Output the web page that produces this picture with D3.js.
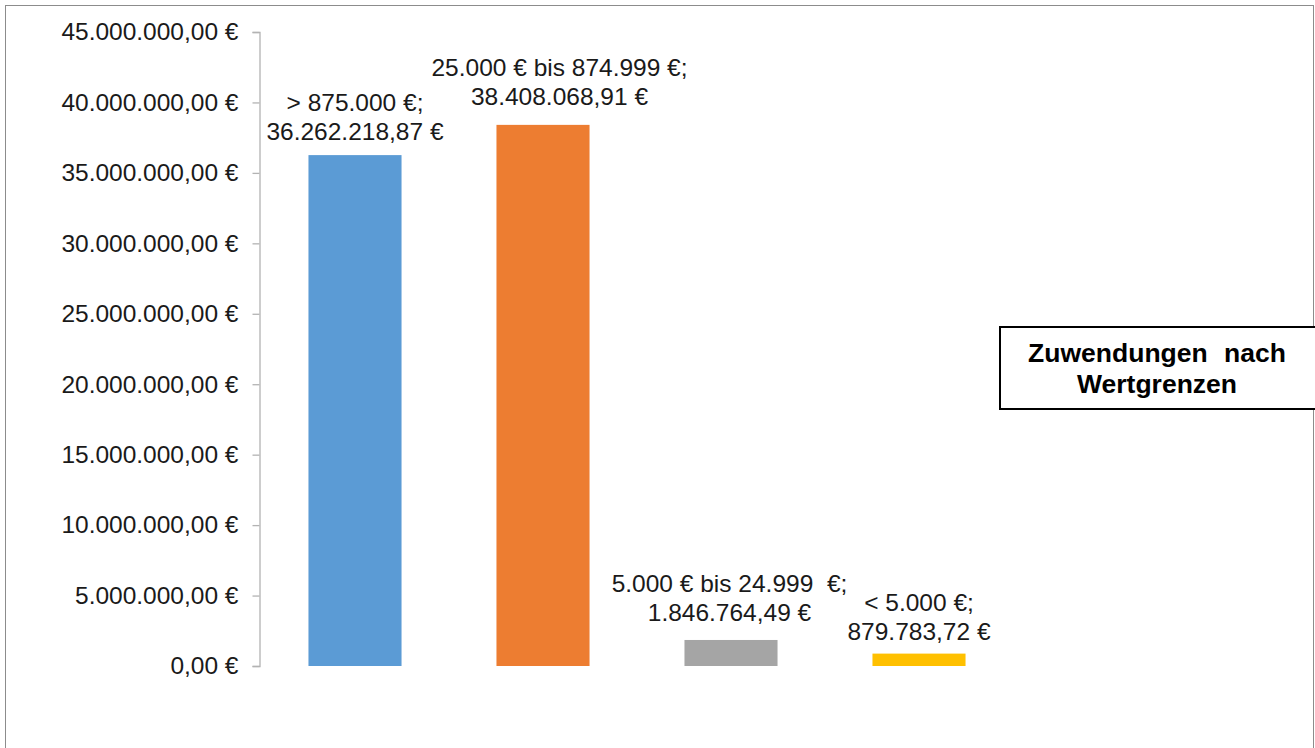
<!DOCTYPE html>
<html>
<head>
<meta charset="utf-8">
<script src="https://cdn.jsdelivr.net/npm/d3@7"></script>
<style>
  body { margin: 0; background: #fff; }
  svg { display: block; font-family: "Liberation Sans", Arial, sans-serif; }
</style>
</head>
<body>
<div id="chart"></div>
<script>
// Daten
var categories = ["> 875.000 €;", "25.000 € bis 874.999 €;", "5.000 € bis 24.999  €;", "< 5.000 €;"];
var values = [36262218.87, 38408068.91, 1846764.49, 879783.72];
var valueLabels = ["36.262.218,87 €", "38.408.068,91 €", "1.846.764,49 €", "879.783,72 €"];
var yTicks = [0, 5000000, 10000000, 15000000, 20000000, 25000000, 30000000, 35000000, 40000000, 45000000];
var colors = ["#5B9BD5", "#ED7D31", "#A5A5A5", "#FFC000"];
var titleLines = ["Zuwendungen nach", "Wertgrenzen"];

// Beschriftungsversatz (wie im Original leicht verschoben)
var labelShift = [{dx: 0, dy: 0}, {dx: 16.5, dy: -4.5}, {dx: -1.5, dy: -3.5}, {dx: 0, dy: 2}];

var width = 1315, height = 748;

var svg = d3.select("#chart").append("svg")
  .attr("width", width)
  .attr("height", height);

// Rahmen
svg.append("rect")
  .attr("x", 5.5).attr("y", 5.5)
  .attr("width", 1308).attr("height", 800)
  .attr("fill", "none")
  .attr("stroke", "#8c8c8c")
  .attr("stroke-width", 1);

var y = d3.scaleLinear()
  .domain([0, 45000000])
  .range([666, 32]);

var x = d3.scaleBand()
  .domain(categories)
  .range([261, 1013])
  .paddingInner(0.505)
  .paddingOuter(0.2525);

var fmt = function(d) {
  return d3.format(",.2f")(d).replace(/,/g, "#").replace(".", ",").replace(/#/g, ".") + " €";
};

// Y-Achse
var yAxis = d3.axisLeft(y)
  .tickValues(yTicks)
  .tickFormat(fmt)
  .tickSize(7)
  .tickPadding(14);

var gy = svg.append("g")
  .attr("transform", "translate(259.5,0)")
  .call(yAxis);

gy.select(".domain").attr("stroke", "#b3b3b3").attr("stroke-width", 1.3);
gy.selectAll(".tick line").attr("stroke", "#b3b3b3").attr("stroke-width", 1.3);
gy.selectAll(".tick text")
  .attr("fill", "#1a1a1a")
  .style("font-size", "24.5px");

// Balken
svg.selectAll(".bar")
  .data(values)
  .enter()
  .append("rect")
  .attr("class", "bar")
  .attr("x", function(d, i) { return x(categories[i]); })
  .attr("y", function(d) { return y(d); })
  .attr("width", x.bandwidth())
  .attr("height", function(d) { return y(0) - y(d); })
  .attr("fill", function(d, i) { return colors[i]; });

// Datenbeschriftungen
var labels = svg.selectAll(".lbl")
  .data(values)
  .enter()
  .append("text")
  .attr("class", "lbl")
  .attr("text-anchor", "middle")
  .attr("fill", "#1a1a1a")
  .style("font-size", "24.5px")
  .style("white-space", "pre")
  .attr("transform", function(d, i) {
    var cx = x(categories[i]) + x.bandwidth() / 2 + labelShift[i].dx;
    var cy = y(d) - 15.5 + labelShift[i].dy;
    return "translate(" + cx + "," + cy + ")";
  });

labels.append("tspan")
  .attr("x", 0).attr("y", -29)
  .text(function(d, i) { return categories[i]; });
labels.append("tspan")
  .attr("x", 0).attr("y", 0)
  .text(function(d, i) { return valueLabels[i]; });

// Titel-Kasten
var tg = svg.append("g").attr("transform", "translate(1000,327)");
tg.append("rect")
  .attr("width", 320).attr("height", 82)
  .attr("fill", "#fff")
  .attr("stroke", "#000")
  .attr("stroke-width", 2);
tg.selectAll("text")
  .data(titleLines)
  .enter()
  .append("text")
  .attr("x", 157)
  .attr("y", function(d, i) { return 35 + i * 31; })
  .attr("text-anchor", "middle")
  .attr("font-weight", "bold")
  .attr("word-spacing", "9px")
  .style("font-size", "26.5px")
  .text(function(d) { return d; });
</script>
</body>
</html>
